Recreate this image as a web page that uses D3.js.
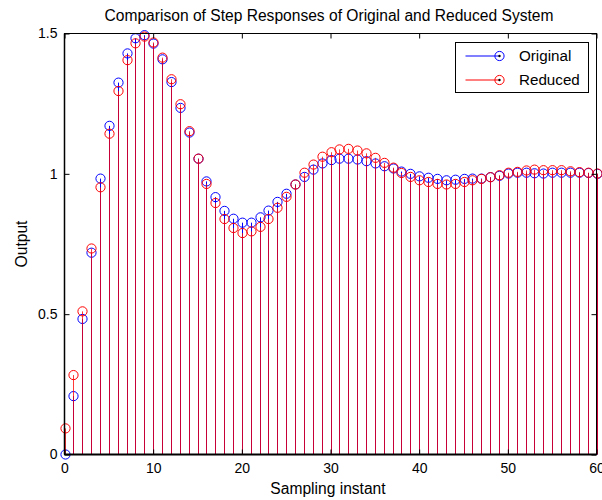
<!DOCTYPE html>
<html>
<head>
<meta charset="utf-8">
<script src="https://cdn.jsdelivr.net/npm/d3@7/dist/d3.min.js"></script>
<style>
  html, body { margin: 0; padding: 0; background: #fff; }
  svg { display: block; font-family: "Liberation Sans", Arial, Helvetica, sans-serif; }
</style>
</head>
<body>
<svg id="chart" width="602" height="500"></svg>
<script>
// Sampling instants 0..60
const samples = d3.range(0, 61);

// Step response of the original system
const original = [
  0.000, 0.208, 0.483, 0.719, 0.983, 1.171, 1.325, 1.429, 1.483, 1.494,
  1.464, 1.408, 1.327, 1.235, 1.147, 1.054, 0.973, 0.917, 0.868, 0.840,
  0.826, 0.826, 0.845, 0.869, 0.900, 0.929, 0.962, 0.989, 1.015, 1.037,
  1.049, 1.054, 1.054, 1.051, 1.045, 1.037, 1.027, 1.019, 1.008, 1.000,
  0.991, 0.986, 0.982, 0.977, 0.979, 0.982, 0.983, 0.983, 0.988, 0.993,
  1.001, 1.004, 1.004, 1.002, 1.001, 1.004, 1.004, 1.004, 1.004, 1.003,
  1.000
];

// Step response of the reduced system
const reduced = [
  0.093, 0.283, 0.510, 0.734, 0.952, 1.143, 1.295, 1.405, 1.465, 1.489,
  1.468, 1.414, 1.337, 1.248, 1.152, 1.054, 0.964, 0.896, 0.839, 0.807,
  0.789, 0.795, 0.811, 0.839, 0.879, 0.918, 0.962, 1.004, 1.033, 1.061,
  1.077, 1.087, 1.089, 1.083, 1.073, 1.057, 1.039, 1.022, 1.003, 0.989,
  0.977, 0.971, 0.964, 0.962, 0.964, 0.971, 0.977, 0.982, 0.988, 0.995,
  1.004, 1.007, 1.012, 1.015, 1.013, 1.013, 1.013, 1.009, 1.006, 1.004,
  1.001
];

const xTicks = [0, 10, 20, 30, 40, 50, 60];
const yTicks = [0, 0.5, 1, 1.5];

const seriesNames = ["Original", "Reduced"];
const seriesColors = ["#0000ff", "#ff0000"];

const svg = d3.select("#chart");
const plot = { left: 64.5, right: 596.5, top: 33.5, bottom: 454.5 };

const x = d3.scaleLinear().domain([0, 60]).range([plot.left, plot.right]);
const y = d3.scaleLinear().domain([0, 1.5]).range([plot.bottom, plot.top]);

// Stems and markers for both series (reduced drawn on top)
const series = [original, reduced];
series.forEach((vals, si) => {
  const g = svg.append("g");
  const color = seriesColors[si];
  g.selectAll("line")
    .data(samples)
    .join("line")
    .attr("x1", d => Math.round(x(d)) + 0.5)
    .attr("x2", d => Math.round(x(d)) + 0.5)
    .attr("y1", y(0))
    .attr("y2", d => y(vals[d]))
    .attr("stroke", color)
    .attr("stroke-opacity", si === 1 ? 0.78 : 1)
    .attr("stroke-width", 1);
  g.selectAll("circle")
    .data(samples)
    .join("circle")
    .attr("cx", d => Math.round(x(d)) + 0.5)
    .attr("cy", d => y(vals[d]))
    .attr("r", 4.6)
    .attr("fill", "none")
    .attr("stroke", color)
    .attr("stroke-width", 1);
});

// Axes box with inward ticks on all four sides
const axisG = svg.append("g").attr("fill", "none").attr("stroke", "#000").attr("stroke-width", 1);
axisG.append("rect")
  .attr("x", plot.left).attr("y", plot.top)
  .attr("width", plot.right - plot.left).attr("height", plot.bottom - plot.top);
// heavier baseline / left edge
axisG.append("line").attr("x1", plot.left).attr("x2", plot.right)
  .attr("y1", plot.bottom).attr("y2", plot.bottom).attr("stroke-width", 2);
axisG.append("line").attr("x1", plot.left).attr("x2", plot.left)
  .attr("y1", plot.top).attr("y2", plot.bottom).attr("stroke-width", 1.5);

const tickLen = 5;
const xAxisBottom = d3.axisBottom(x).tickValues(xTicks).tickSizeInner(-tickLen).tickSizeOuter(0).tickPadding(9).tickFormat(d3.format("d"));
const xAxisTop = d3.axisTop(x).tickValues(xTicks).tickSizeInner(-tickLen).tickSizeOuter(0).tickFormat("");
const yAxisLeft = d3.axisLeft(y).tickValues(yTicks).tickSizeInner(-tickLen).tickSizeOuter(0).tickPadding(7).tickFormat(d => d3.format("")(d));
const yAxisRight = d3.axisRight(y).tickValues(yTicks).tickSizeInner(-tickLen).tickSizeOuter(0).tickFormat("");

function styleAxis(g) {
  g.select(".domain").remove();
  g.selectAll("text").attr("fill", "#000").attr("font-size", 14).attr("font-family", "Liberation Sans, Arial, sans-serif");
  g.selectAll("line").attr("stroke", "#000");
}
svg.append("g").attr("transform", `translate(0,${plot.bottom})`).call(xAxisBottom).call(styleAxis);
svg.append("g").attr("transform", `translate(0,${plot.top})`).call(xAxisTop).call(styleAxis);
svg.append("g").attr("transform", `translate(${plot.left},0)`).call(yAxisLeft).call(styleAxis);
svg.append("g").attr("transform", `translate(${plot.right},0)`).call(yAxisRight).call(styleAxis);

// Title and axis labels
svg.append("text")
  .attr("x", 329).attr("y", 20.5)
  .attr("text-anchor", "middle").attr("font-size", 15.6).attr("fill", "#000")
  .text("Comparison of Step Responses of Original and Reduced System");
svg.append("text")
  .attr("x", 328).attr("y", 494)
  .attr("text-anchor", "middle").attr("font-size", 15.6).attr("fill", "#000")
  .text("Sampling instant");
svg.append("text")
  .attr("transform", `translate(27,${(plot.top + plot.bottom) / 2}) rotate(-90)`)
  .attr("text-anchor", "middle").attr("font-size", 15.6).attr("fill", "#000")
  .text("Output");

// Legend
const legend = svg.append("g").attr("transform", "translate(455.5,42.5)");
legend.append("rect").attr("width", 133).attr("height", 50)
  .attr("fill", "#fff").attr("stroke", "#000").attr("stroke-width", 1);
seriesNames.forEach((name, i) => {
  const cy = 13.5 + i * 24;
  const row = legend.append("g");
  row.append("line").attr("x1", 10).attr("x2", 44).attr("y1", cy).attr("y2", cy)
    .attr("stroke", seriesColors[i]).attr("stroke-width", 1);
  row.append("circle").attr("cx", 44).attr("cy", cy).attr("r", 4.6)
    .attr("fill", "none").attr("stroke", seriesColors[i]);
  row.append("circle").attr("cx", 44).attr("cy", cy).attr("r", 1.2)
    .attr("fill", "#000");
  row.append("text").attr("x", 63.5).attr("y", cy).attr("dy", "0.35em")
    .attr("font-size", 15.2).attr("fill", "#000").text(name);
});
</script>
</body>
</html>
